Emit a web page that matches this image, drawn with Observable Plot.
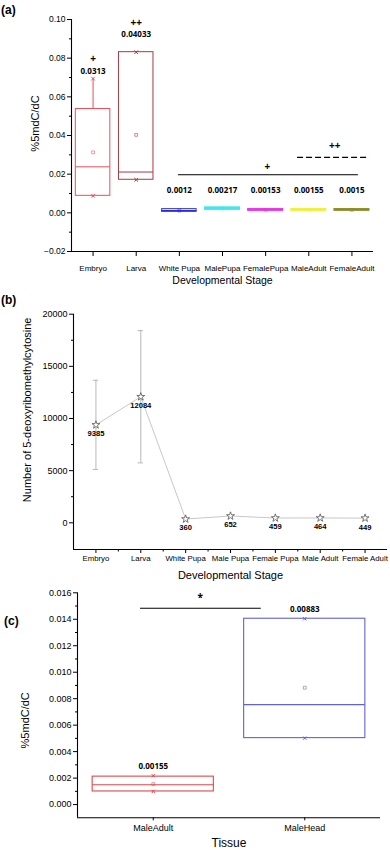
<!DOCTYPE html>
<html><head><meta charset="utf-8">
<script src="https://cdn.jsdelivr.net/npm/d3@7"></script>
<script src="https://cdn.jsdelivr.net/npm/@observablehq/plot@0.6"></script>
<style>
html,body{margin:0;padding:0;background:#fff;}
#root{position:relative;width:390px;height:850px;overflow:hidden;font-family:"Liberation Sans",Arial,sans-serif;}
.panel{position:absolute;left:0;}
.tag{position:absolute;font:bold 12px "Liberation Sans",Arial,sans-serif;color:#000;}
</style></head><body><div id="root"></div>
<script>
// ---------- Panel (a) data ----------
const stagesA = ["Embryo","Larva","White Pupa","MalePupa","FemalePupa","MaleAdult","FemaleAdult"];
const q1A     = [0.0088, 0.0171, 0.0005, 0.0017, 0.0012, 0.0012, 0.0012];
const medianA = [0.0238, 0.0211, 0.0012, 0.0022, 0.0015, 0.0015, 0.0015];
const q3A     = [0.0537, 0.0831, 0.0019, 0.0027, 0.0018, 0.0018, 0.0018];
const loA     = [0.0088, 0.0171, 0.0005, 0.0017, 0.0012, 0.0012, 0.0012];
const hiA     = [0.0694, 0.0831, 0.0019, 0.0027, 0.0018, 0.0018, 0.0018];
const meanA   = [0.0313, 0.04033, 0.0012, 0.00217, 0.00153, 0.00155, 0.0015];
const colorsA = ["#e8505a","#a23b45","#2d2dd6","#3ee6ee","#e833e8","#f0f03a","#8c8c2c"];
const yTicksA = [-0.02, 0, 0.02, 0.04, 0.06, 0.08, 0.10];
const yMinorA = [-0.01, 0.01, 0.03, 0.05, 0.07, 0.09];

// ---------- Panel (b) data ----------
const stagesB = ["Embryo","Larva","White Pupa","Male Pupa","Female Pupa","Male Adult","Female Adult"];
const countsB = [9385, 12084, 360, 652, 459, 464, 449];
const errB    = [4280, 6340, 0, 0, 0, 0, 0];
const yTicksB = [0, 5000, 10000, 15000, 20000];
const yMinorB = [2500, 7500, 12500, 17500];

// ---------- Panel (c) data ----------
const tissuesC = ["MaleAdult","MaleHead"];
const q1C     = [0.00099, 0.00502];
const medianC = [0.0015, 0.00755];
const q3C     = [0.00211, 0.01404];
const loC     = [0.00099, 0.00502];
const hiC     = [0.00218, 0.01404];
const meanC   = [0.00155, 0.00883];
const colorsC = ["#e2474b","#6262d8"];
const yTicksC = [0, 0.002, 0.004, 0.006, 0.008, 0.010, 0.012, 0.014, 0.016];
const yMinorC = [0.001, 0.003, 0.005, 0.007, 0.009, 0.011, 0.013, 0.015];

const FONT = "Liberation Sans, Arial, sans-serif";
const BOLD = "Open Sans, Liberation Sans, Arial, sans-serif";
const root = document.getElementById("root");
function place(svg, top){ svg.classList.add("panel"); svg.style.top = top+"px"; root.appendChild(svg); }
function tag(t, left, top){ const d=document.createElement("div"); d.className="tag"; d.textContent=t; d.style.left=left+"px"; d.style.top=top+"px"; root.appendChild(d); }

// ---------- Panel (a) ----------
const boxA = stagesA.map((s,i)=>({i, s, q1:q1A[i], med:medianA[i], q3:q3A[i], lo:loA[i], hi:hiA[i], mean:meanA[i], c:colorsA[i], solid: i>=3}));
const plotA = Plot.plot({
  width: 390, height: 292,
  marginLeft: 71, marginRight: 17, marginTop: 19, marginBottom: 41,
  x: {type:"linear", domain:[-0.5, 6.5], axis:null},
  y: {domain:[-0.02, 0.10], axis:null, label:null},
  color: {type:"identity"},
  style: {fontFamily: FONT, fontSize:"8px", color:"#000", background:"transparent", overflow:"visible"},
  marks: [
    Plot.axisY(yTicksA, {tickSize:4, tickPadding:2, tickFormat:d3.format(".2f"), fontSize:8.5, label:null}),
    Plot.axisY(yMinorA, {tickSize:2, tickFormat:()=>"", label:null}),
    Plot.axisX(d3.range(stagesA.length), {tickSize:5, tickPadding:9, tickFormat:i=>stagesA[i], fontSize:8, label:null}),
    Plot.ruleX([-0.5], {stroke:"#000", strokeWidth:1.1}),
    Plot.ruleY([-0.02], {stroke:"#000", strokeWidth:1.1}),
    // whiskers
    Plot.ruleX(boxA, {x:"i", y1:"q3", y2:"hi", stroke:"c"}),
    Plot.ruleX(boxA, {x:"i", y1:"lo", y2:"q1", stroke:"c"}),
    Plot.dot(boxA.filter(d=>d.i<2), {x:"i", y:"hi", symbol:"times", r:1.8, stroke:"c", strokeWidth:1}),
    Plot.dot(boxA.filter(d=>d.i<2), {x:"i", y:"lo", symbol:"times", r:1.8, stroke:"c", strokeWidth:1}),
    // boxes
    Plot.rect(boxA, {x1:d=>d.i-0.4, x2:d=>d.i+0.4, y1:"q1", y2:"q3", stroke:"c", fill:d=>d.solid? d.c : "none", fillOpacity:0.8, strokeWidth:d=>d.solid?1.6:1}),
    Plot.ruleY(boxA, {x1:d=>d.i-0.4, x2:d=>d.i+0.4, y:"med", stroke:"c", strokeWidth:1}),
    Plot.dot(boxA, {x:"i", y:"mean", symbol:"square", r:1.6, stroke:"c", strokeOpacity:0.7, strokeWidth:0.8, fill:"none"}),
    // mean labels
    Plot.text(boxA.filter(d=>d.i===0), {x:"i", y:"hi", text:d=>String(d.mean), dy:-7.5, fontFamily:BOLD, fontWeight:"bold", fontSize:8}),
    Plot.text(boxA.filter(d=>d.i===0), {x:"i", y:"hi", text:()=>"+", dy:-19.5, fontFamily:BOLD, fontWeight:"bold", fontSize:10}),
    Plot.text(boxA.filter(d=>d.i===1), {x:"i", y:"hi", text:d=>String(d.mean), dy:-17.7, fontFamily:BOLD, fontWeight:"bold", fontSize:8}),
    Plot.text(boxA.filter(d=>d.i===1), {x:"i", y:"hi", text:()=>"++", dy:-29, fontFamily:BOLD, fontWeight:"bold", fontSize:10}),
    Plot.text(boxA.filter(d=>d.i>=2), {x:"i", y:()=>0, text:d=>String(d.mean), dy:-22, fontFamily:BOLD, fontWeight:"bold", fontSize:8}),
    // significance annotations
    Plot.ruleY([0.0197], {x1:1.98, x2:6.15, stroke:"#000", strokeWidth:1}),
    Plot.text(["+"], {x:4.04, y:0.0238, text:d=>d, fontFamily:BOLD, fontWeight:"bold", fontSize:10}),
    Plot.ruleY([0.0287], {x1:4.74, x2:6.41, stroke:"#000", strokeWidth:1.1, strokeDasharray:"6,3"}),
    Plot.text(["++"], {x:5.6, y:0.0349, text:d=>d, fontFamily:BOLD, fontWeight:"bold", fontSize:10}),
    // titles
    Plot.text(["%5mdC/dC"], {text:d=>d, frameAnchor:"left", textAnchor:"middle", lineAnchor:"middle", rotate:-90, dx:-36, dy:-12, fontSize:11}),
    Plot.text(["Developmental Stage"], {text:d=>d, frameAnchor:"bottom", textAnchor:"middle", lineAnchor:"middle", dy:29, fontSize:10.5})
  ]
});
place(plotA, 0);
tag("(a)", 1, 3);

// ---------- Panel (b) ----------
const ptsB = stagesB.map((s,i)=>({i, s, v:countsB[i], lo:countsB[i]-errB[i], hi:countsB[i]+errB[i], e:errB[i]}));
const errPts = ptsB.filter(d=>d.e>0);
const plotB = Plot.plot({
  width: 390, height: 290,
  marginLeft: 73, marginRight: 3, marginTop: 18.7, marginBottom: 36,
  x: {type:"linear", domain:[-0.5, 6.5], axis:null},
  y: {domain:[-2560, 20000], axis:null, label:null},
  style: {fontFamily: FONT, fontSize:"8px", color:"#000", background:"transparent", overflow:"visible"},
  marks: [
    Plot.axisY(yTicksB, {tickSize:4, tickPadding:2, tickFormat:d=>String(d), fontSize:9, label:null}),
    Plot.axisY(yMinorB, {tickSize:2, tickFormat:()=>"", label:null}),
    Plot.axisX(d3.range(stagesB.length), {tickSize:4, tickPadding:2, tickFormat:i=>stagesB[i], fontSize:7.8, label:null}),
    Plot.axisX(d3.range(stagesB.length-1).map(i=>i+0.5), {tickSize:2.5, tickFormat:()=>"", label:null}),
    Plot.ruleX([-0.5], {stroke:"#000", strokeWidth:1.1}),
    Plot.ruleY([-2560], {stroke:"#000", strokeWidth:1.1}),
    Plot.line(ptsB, {x:"i", y:"v", stroke:"#c8c8c8", strokeWidth:1}),
    Plot.ruleX(errPts, {x:"i", y1:"lo", y2:"hi", stroke:"#b8b8b8", strokeWidth:1}),
    Plot.ruleY(errPts, {x1:d=>d.i-0.06, x2:d=>d.i+0.06, y:"hi", stroke:"#b8b8b8", strokeWidth:1}),
    Plot.ruleY(errPts, {x1:d=>d.i-0.06, x2:d=>d.i+0.06, y:"lo", stroke:"#b8b8b8", strokeWidth:1}),
    Plot.dot(ptsB, {x:"i", y:"v", symbol:"star", r:2.5, stroke:"#555", fill:"#fff", strokeWidth:0.8}),
    Plot.text(ptsB, {x:"i", y:"v", text:d=>String(d.v), dy:9, fontWeight:"bold", fontSize:7.6}),
    Plot.text(["Number of 5-deoxyribomethylcytosine"], {text:d=>d, frameAnchor:"left", textAnchor:"middle", lineAnchor:"middle", rotate:-90, dx:-46, dy:-22, fontSize:11}),
    Plot.text(["Developmental Stage"], {text:d=>d, frameAnchor:"bottom", textAnchor:"middle", lineAnchor:"middle", dy:26, fontSize:11})
  ]
});
place(plotB, 295);
tag("(b)", 1, 293);

// ---------- Panel (c) ----------
const boxC = tissuesC.map((s,i)=>({i, s, q1:q1C[i], med:medianC[i], q3:q3C[i], lo:loC[i], hi:hiC[i], mean:meanC[i], c:colorsC[i]}));
const plotC = Plot.plot({
  width: 390, height: 265,
  marginLeft: 77, marginRight: 10, marginTop: 7.3, marginBottom: 32.7,
  x: {type:"linear", domain:[-0.5, 1.5], axis:null},
  y: {domain:[-0.001, 0.016], axis:null, label:null},
  color: {type:"identity"},
  style: {fontFamily: FONT, fontSize:"9px", color:"#000", background:"transparent", overflow:"visible"},
  marks: [
    Plot.axisY(yTicksC, {tickSize:4, tickPadding:2, tickFormat:d3.format(".3f"), fontSize:9, label:null}),
    Plot.axisY(yMinorC, {tickSize:2, tickFormat:()=>"", label:null}),
    Plot.axisX(d3.range(tissuesC.length), {tickSize:3, tickPadding:4, tickFormat:i=>tissuesC[i], fontSize:9, label:null}),
    Plot.ruleX([-0.5], {stroke:"#000", strokeWidth:1.1}),
    Plot.ruleY([-0.001], {stroke:"#000", strokeWidth:1.1}),
    Plot.ruleX(boxC, {x:"i", y1:"q3", y2:"hi", stroke:"c"}),
    Plot.ruleX(boxC, {x:"i", y1:"lo", y2:"q1", stroke:"c"}),
    Plot.dot(boxC, {x:"i", y:"hi", symbol:"times", r:1.6, stroke:"c", strokeWidth:1}),
    Plot.dot(boxC, {x:"i", y:"lo", symbol:"times", r:1.6, stroke:"c", strokeWidth:1}),
    Plot.rect(boxC, {x1:d=>d.i-0.4, x2:d=>d.i+0.4, y1:"q1", y2:"q3", stroke:"c", fill:"none", strokeWidth:1.1}),
    Plot.ruleY(boxC, {x1:d=>d.i-0.4, x2:d=>d.i+0.4, y:"med", stroke:"c", strokeWidth:1.1}),
    Plot.dot(boxC, {x:"i", y:"mean", symbol:"square", r:1.6, stroke:"c", strokeOpacity:0.7, strokeWidth:0.8, fill:"none"}),
    Plot.text(boxC, {x:"i", y:"hi", text:d=>String(d.mean), dy:-9.5, fontFamily:BOLD, fontWeight:"bold", fontSize:8}),
    Plot.ruleY([0.01483], {x1:-0.084, x2:0.713, stroke:"#000", strokeWidth:1.1}),
    Plot.text(["*"], {x:0.31, y:0.0156, text:d=>d, fontFamily:BOLD, fontWeight:"bold", fontSize:10}),
    Plot.text(["%5mdC/dC"], {text:d=>d, frameAnchor:"left", textAnchor:"middle", lineAnchor:"middle", rotate:-90, dx:-52, dy:15, fontSize:11}),
    Plot.text(["Tissue"], {text:d=>d, frameAnchor:"bottom", textAnchor:"middle", lineAnchor:"middle", dy:25.5, fontSize:12})
  ]
});
place(plotC, 585);
tag("(c)", 4, 614);
</script></body></html>
